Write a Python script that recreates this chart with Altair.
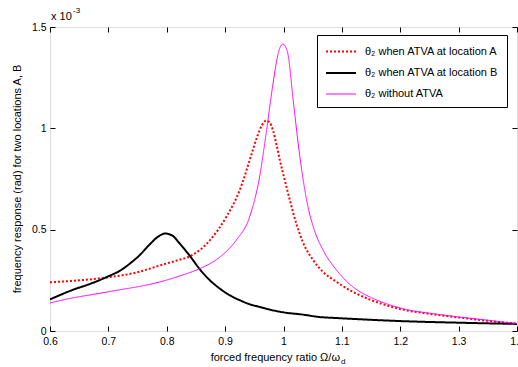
import altair as alt
import pandas as pd

# ---- data (response in units of 1e-3 rad) ----
series_names = ["θ₂ when ATVA at location A", "θ₂ when ATVA at location B", "θ₂ without ATVA"]

ratio_A = [0.60, 0.65, 0.70, 0.75, 0.79, 0.82, 0.84, 0.874, 0.902, 0.925, 0.945, 0.955, 0.963,
           0.970, 0.976, 0.982, 0.988, 0.994, 1.003, 1.011, 1.022, 1.033, 1.051, 1.068, 1.091,
           1.119, 1.148, 1.176, 1.21, 1.25, 1.30, 1.35, 1.40]
resp_A = [0.240, 0.250, 0.265, 0.290, 0.325, 0.350, 0.369, 0.448, 0.563, 0.695, 0.870, 0.960, 1.015,
          1.038, 1.030, 0.990, 0.920, 0.840, 0.735, 0.644, 0.530, 0.440, 0.349, 0.291, 0.242,
          0.193, 0.155, 0.127, 0.102, 0.085, 0.067, 0.050, 0.036]

ratio_B = [0.60, 0.64, 0.67, 0.70, 0.72, 0.74, 0.755, 0.77, 0.785, 0.797, 0.81, 0.822, 0.84, 0.857,
           0.874, 0.891, 0.908, 0.925, 0.942, 0.959, 0.976, 1.00, 1.033, 1.062, 1.091, 1.13,
           1.20, 1.30, 1.40]
resp_B = [0.156, 0.204, 0.234, 0.270, 0.298, 0.340, 0.378, 0.425, 0.465, 0.481, 0.470, 0.432, 0.369,
          0.303, 0.250, 0.209, 0.176, 0.152, 0.132, 0.119, 0.106, 0.092, 0.081, 0.069, 0.064,
          0.058, 0.049, 0.041, 0.035]

ratio_N = [0.60, 0.617, 0.703, 0.788, 0.834, 0.857, 0.891, 0.919, 0.942, 0.959, 0.971, 0.982,
           0.991, 0.995, 0.999, 1.003, 1.008, 1.016, 1.028, 1.042, 1.051, 1.068, 1.091, 1.119,
           1.148, 1.176, 1.21, 1.25, 1.30, 1.35, 1.40]
resp_N = [0.138, 0.150, 0.195, 0.242, 0.283, 0.308, 0.365, 0.448, 0.563, 0.760, 0.990, 1.220,
          1.370, 1.405, 1.416, 1.405, 1.360, 1.155, 0.860, 0.612, 0.514, 0.398, 0.300, 0.217,
          0.168, 0.135, 0.106, 0.088, 0.069, 0.053, 0.036]

x_ticks = [0.6, 0.7, 0.8, 0.9, 1.0, 1.1, 1.2, 1.3, 1.4]
y_ticks = [0, 0.5, 1, 1.5]

exp_label = ["x 10"]
exp_sup = ["-3"]
x_title = ["forced frequency ratio Ω/ω"]
x_title_sub = ["d"]
y_title = ["frequency response (rad) for two locations A, B"]

rows = []
for name, rs, vs in [(series_names[0], ratio_A, resp_A),
                     (series_names[1], ratio_B, resp_B),
                     (series_names[2], ratio_N, resp_N)]:
    for r, v in zip(rs, vs):
        rows.append({"series": name, "r": r, "v": v})
df = pd.DataFrame(rows)

FONT = "Liberation Sans"
W, H = 467, 304

xscale = alt.Scale(domain=[0.6, 1.4], nice=False, zero=False)
yscale = alt.Scale(domain=[0, 1.5], nice=False, zero=False)

legend = alt.Legend(orient="none", legendX=267, legendY=8, title=None,
                    strokeColor="black", fillColor="white", padding=8,
                    symbolType="M-1,0H3", symbolSize=225,
                    labelFont=FONT, labelFontSize=11, labelColor="black",
                    labelOffset=23, rowPadding=7.5, labelLimit=400, cornerRadius=0)

lines = alt.Chart(df).mark_line(interpolate="monotone", clip=True).encode(
    x=alt.X("r:Q", scale=xscale,
            axis=alt.Axis(orient="bottom", values=x_ticks, format=".1~f", ticks=False,
                          domain=False, grid=False, labelFont=FONT, labelFontSize=10.5,
                          labelColor="black", labelPadding=5, labelFlush=False,
                          labelOverlap=False, title=None)),
    y=alt.Y("v:Q", scale=yscale,
            axis=alt.Axis(orient="left", values=y_ticks, format=".1~f", ticks=False,
                          domain=False, grid=False, labelFont=FONT, labelFontSize=10.5,
                          labelColor="black", labelPadding=4, labelFlush=False,
                          labelOverlap=False, title=None)),
    color=alt.Color("series:N", scale=alt.Scale(domain=series_names,
                                                range=["#ff0000", "#000000", "#ff00ff"]),
                    legend=legend),
    strokeDash=alt.StrokeDash("series:N", scale=alt.Scale(domain=series_names,
                                                          range=[[2, 2], [1, 0], [1, 0]]),
                              legend=legend),
    strokeWidth=alt.StrokeWidth("series:N", scale=alt.Scale(type="ordinal", domain=series_names,
                                                            range=[2, 2, 1]),
                                legend=legend),
)

def tick_axis(orient, vals):
    return alt.Axis(orient=orient, values=vals, labels=False, domain=False, grid=False,
                    ticks=True, tickSize=5, tickColor="black", tickWidth=1,
                    offset=-5, title=None)

ticks_bl = alt.Chart(df).mark_point(opacity=0).encode(
    x=alt.X("r:Q", scale=xscale, axis=tick_axis("bottom", x_ticks)),
    y=alt.Y("v:Q", scale=yscale, axis=tick_axis("left", y_ticks)),
)
ticks_tr = alt.Chart(df).mark_point(opacity=0).encode(
    x=alt.X("r:Q", scale=xscale, axis=tick_axis("top", x_ticks)),
    y=alt.Y("v:Q", scale=yscale, axis=tick_axis("right", y_ticks)),
)

def label(data, x, y, size, align="left", baseline="alphabetic", angle=0):
    kw = dict(align=align, baseline=baseline, font=FONT, fontSize=size, color="black")
    if angle:
        kw["angle"] = angle
    return alt.Chart(pd.DataFrame({"t": data})).mark_text(**kw).encode(
        x=alt.value(x), y=alt.value(y), text="t:N")

t_exp = label(exp_label, 1, -7, 11)
t_sup = label(exp_sup, 23, -14, 8)
t_xt = label(x_title, 290, H + 30, 11, align="right")
t_xs = label(x_title_sub, 291, H + 33, 8)
t_yt = label(y_title, -32, H / 2, 11, align="center", baseline="middle", angle=270)

chart = alt.layer(ticks_bl, ticks_tr, lines, t_exp, t_sup, t_xt, t_xs, t_yt).resolve_axis(
    x="independent", y="independent"
).properties(
    width=W, height=H,
    autosize=alt.AutoSizeParams(type="none"),
    padding={"left": 50, "top": 27, "right": 1, "bottom": 36},
).configure_view(stroke="black", strokeWidth=1.5).configure(background="white")

chart.save("out.html", embed_options={"renderer": "svg", "actions": False})
